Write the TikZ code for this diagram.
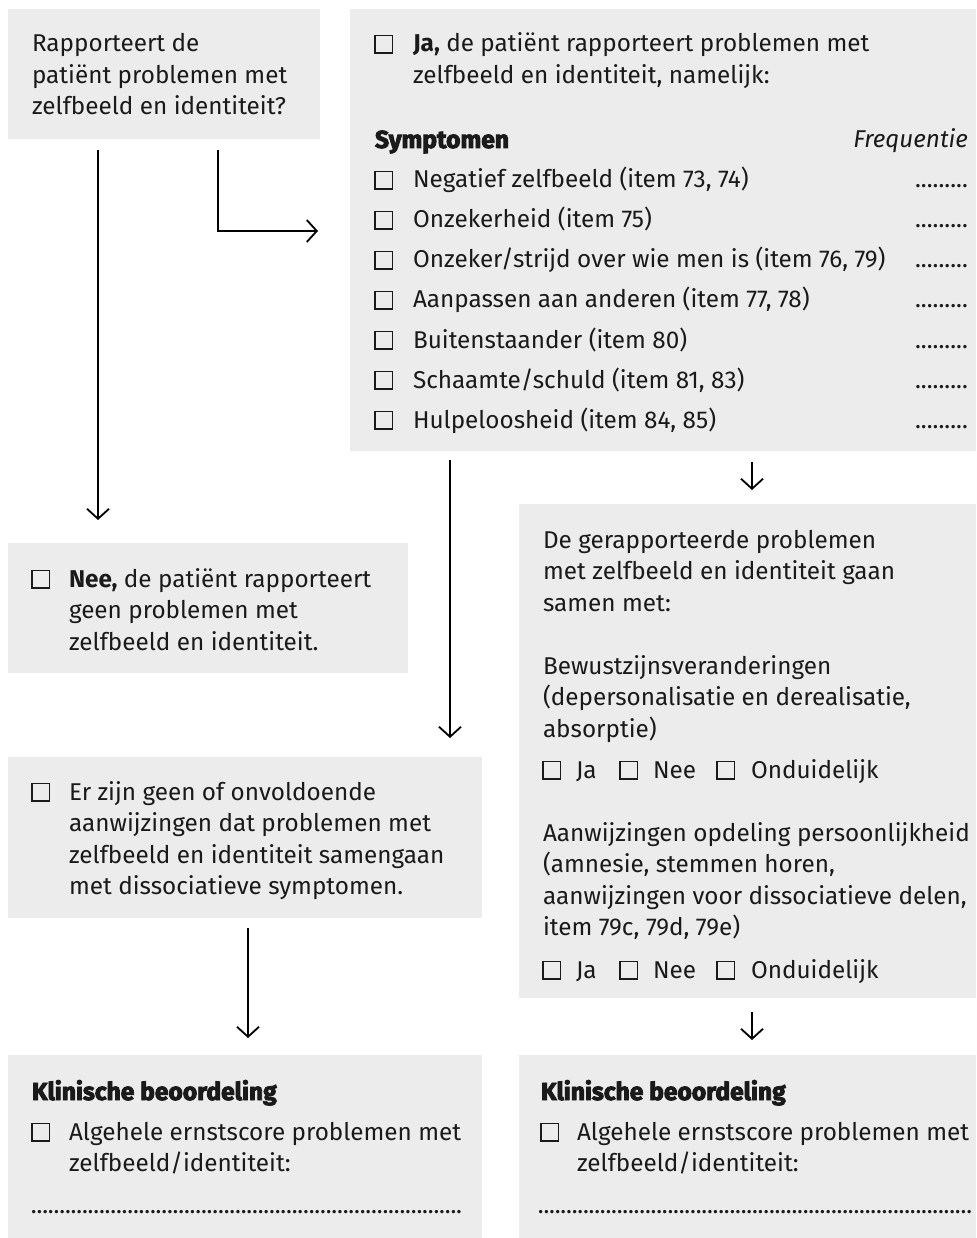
\documentclass[tikz,border=0pt]{standalone}
\usepackage{fontspec}
\setmainfont{Fira Sans}
\newfontfamily\heavyfont{Fira Sans}[BoldFeatures={FakeBold=3.5}]
\usetikzlibrary{arrows.meta}
\definecolor{panel}{HTML}{ECECEC}
\definecolor{ink}{HTML}{1A1A1A}
% strut that fixes the top of a text block 24pt above its first baseline
\newcommand\firstline{\rule{0pt}{24pt}}
% leader of dots of a given width
\newcommand\dotrun[2]{\hbox to #1{\xleaders\hbox to #2{\hss.\hss}\hfill}}
\begin{document}
\begin{tikzpicture}[x=1pt,y=-1pt,
  every node/.style={inner sep=0pt,outer sep=0pt,text=ink},
  font=\fontsize{24.3}{31.5}\selectfont,
  panelbox/.style={fill=panel,draw=none,anchor=north west},
  txt/.style={anchor=north west,align=left},
  line/.style={anchor=base west},
  head/.style={anchor=base west,font=\fontsize{24.6}{31.5}\selectfont\heavyfont\bfseries},
  cb/.style={draw=ink,line width=1.2pt,minimum size=17.5pt,anchor=south west},
  freq/.style={anchor=base east},
  arr/.style={draw=black,line width=1.8pt,
    -{Straight Barb[length=10pt,width=22pt,line width=1.8pt]}}
]
\useasboundingbox (0,0) rectangle (976,1238);

% panels
\node[panelbox,minimum width=312pt,minimum height=130pt] (ask) at (8,9) {};
\node[panelbox,minimum width=626pt,minimum height=442pt] (yes) at (350,9) {};
\node[panelbox,minimum width=400pt,minimum height=130pt] (no) at (8,543) {};
\node[panelbox,minimum width=474pt,minimum height=161pt] (weak) at (8,757) {};
\node[panelbox,minimum width=457pt,minimum height=494pt] (dis) at (519,504) {};
\node[panelbox,minimum width=474pt,minimum height=183pt] (cl) at (8,1055) {};
\node[panelbox,minimum width=457pt,minimum height=183pt] (cr) at (519,1055) {};

% question
\node[txt] (askt) at (32,28) {\firstline Rapporteert de\\patiënt problemen met\\zelfbeeld en identiteit?};

% yes branch
\node[cb] (yescb) at (375,53) {};
\node[txt] (yest) at (413,28) {\firstline\textbf{Ja,} de patiënt rapporteert problemen met\\zelfbeeld en identiteit, namelijk:};
\node[head] (symh) at (375,148) {Symptomen};
\node[freq] (freqh) at (968,148) {\itshape Frequentie};
\foreach \i/\t in {0/{Negatief zelfbeeld (item 73, 74)},
                   1/{Onzekerheid (item 75)},
                   2/{Onzeker/strijd over wie men is (item 76, 79)},
                   3/{Aanpassen aan anderen (item 77, 78)},
                   4/{Buitenstaander (item 80)},
                   5/{Schaamte/schuld (item 81, 83)},
                   6/{Hulpeloosheid (item 84, 85)}} {
  \node[cb] (scb\i) at (375,189+40*\i) {};
  \node[line] (st\i) at (413,188+40*\i) {\t};
  \node[freq] (sf\i) at (968,188+40*\i) {\dotrun{53pt}{5.85pt}};
}

% no branch
\node[cb] (nocb) at (32,588) {};
\node[txt] (not) at (69,563) {\firstline\textbf{Nee,} de patiënt rapporteert\\geen problemen met\\zelfbeeld en identiteit.};

% insufficient indications
\node[cb] (weakcb) at (32,801) {};
\node[txt] (weakt) at (69,776) {\firstline Er zijn geen of onvoldoende\\aanwijzingen dat problemen met\\zelfbeeld en identiteit samengaan\\met dissociatieve symptomen.};

% dissociation checks
\node[txt] (dist1) at (543,524) {\firstline De gerapporteerde problemen\\met zelfbeeld en identiteit gaan\\samen met:};
\node[txt] (dist2) at (543,650) {\firstline Bewustzijnsveranderingen\\(depersonalisatie en derealisatie,\\absorptie)};
\node[cb] (da1) at (543,779) {};
\node[line] (dat1) at (576,778) {Ja};
\node[cb] (db1) at (620,779) {};
\node[line] (dbt1) at (653,778) {Nee};
\node[cb] (dc1) at (717,779) {};
\node[line] (dct1) at (751,778) {Onduidelijk};
\node[txt] (dist3) at (543,817) {\firstline Aanwijzingen opdeling persoonlijkheid\\(amnesie, stemmen horen,\\aanwijzingen voor dissociatieve delen,\\item 79c, 79d, 79e)};
\node[cb] (da2) at (543,979) {};
\node[line] (dat2) at (576,978) {Ja};
\node[cb] (db2) at (620,979) {};
\node[line] (dbt2) at (653,978) {Nee};
\node[cb] (dc2) at (717,979) {};
\node[line] (dct2) at (751,978) {Onduidelijk};

% clinical assessment, left
\node[head] (clh) at (32,1100) {Klinische beoordeling};
\node[cb] (clcb) at (32,1141) {};
\node[txt] (clt) at (69,1116) {\firstline Algehele ernstscore problemen met\\zelfbeeld/identiteit:};
\node[line] (cld) at (31,1213) {\dotrun{431pt}{5.6pt}};

% clinical assessment, right
\node[head] (crh) at (541,1100) {Klinische beoordeling};
\node[cb] (crcb) at (541,1141) {};
\node[txt] (crt) at (577,1116) {\firstline Algehele ernstscore problemen met\\zelfbeeld/identiteit:};
\node[line] (crd) at (538,1213) {\dotrun{434pt}{5.6pt}};

% connectors
\draw[arr] ([shift={(90,11)}]ask.south west) -- ([shift={(90,-23)}]no.north west);
\draw[arr] ([shift={(210,11)}]ask.south west) |- ([shift={(-32,222)}]yes.north west);
\draw[arr] ([shift={(100,9)}]yes.south west) -- ([shift={(442,-19)}]weak.north west);
\draw[arr] ([shift={(402,11)}]yes.south west) -- ([shift={(233,-14)}]dis.north west);
\draw[arr] ([shift={(240,10)}]weak.south west) -- ([shift={(240,-17)}]cl.north west);
\draw[arr] ([shift={(233,14)}]dis.south west) -- ([shift={(233,-15)}]cr.north west);
\end{tikzpicture}
\end{document}
